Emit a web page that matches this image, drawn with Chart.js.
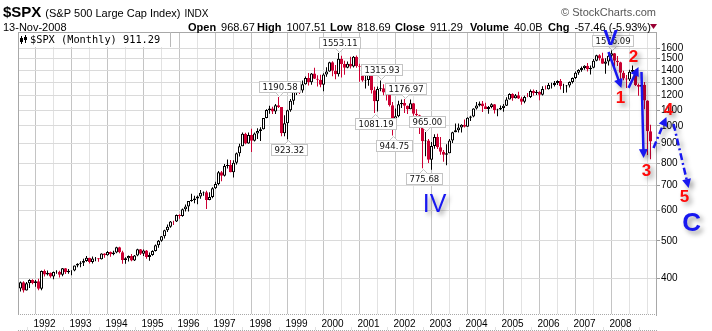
<!DOCTYPE html>
<html>
<head>
<meta charset="utf-8">
<script src="https://cdn.jsdelivr.net/npm/chart.js@4.4.1/dist/chart.umd.min.js"></script>
<style>
html, body { margin: 0; padding: 0; background: #fff; }
canvas { display: block; }
</style>
</head>
<body>
<canvas id="chart" width="712" height="331"></canvas>
<script>
// months are counted from Jan 1992 (= 0); the series starts Apr 1991
const firstMonth = -9
const yearLabels = ['1992','1993','1994','1995','1996','1997','1998','1999','2000',
                    '2001','2002','2003','2004','2005','2006','2007','2008']
const priceTicks = [400, 500, 600, 700, 800, 900, 1000, 1100, 1200, 1300, 1400, 1500, 1600]

const opens = [
    375.2, 375.3, 389.8, 371.2, 387.8, 395.4, 387.9, 392.5, 375.2,                    // 1991 Apr-Dec
    417.1, 408.8, 412.7, 403.7, 414.9, 415.4, 408.1, 424.2, 414.0, 417.8, 418.7, 431.4, // 1992
    435.7, 438.8, 443.4, 451.7, 440.2, 450.2, 450.5, 448.1, 463.6, 458.9, 467.8, 461.8, // 1993
    466.5, 481.6, 467.1, 445.8, 450.9, 456.5, 444.3, 458.3, 475.5, 462.7, 472.4, 453.7, // 1994
    459.3, 470.4, 487.4, 500.7, 514.7, 533.4, 544.8, 562.1, 561.9, 584.4, 581.5, 605.4, // 1995
    615.9, 636.0, 640.4, 645.5, 654.2, 669.1, 670.6, 639.9, 652.0, 687.3, 705.3, 757.0, // 1996
    740.7, 786.2, 790.8, 757.1, 801.3, 848.3, 885.1, 954.3, 899.5, 947.3, 914.6, 955.4, // 1997
    970.4, 980.3, 1049.3, 1101.8, 1111.8, 1090.8, 1133.8, 1120.7, 957.3, 1017.0, 1098.7, 1163.6, // 1998
    1229.2, 1279.6, 1238.3, 1286.4, 1335.2, 1301.8, 1372.7, 1328.7, 1320.4, 1282.7, 1362.9, 1388.9, // 1999
    1469.3, 1394.5, 1366.4, 1498.6, 1452.4, 1420.6, 1454.6, 1430.8, 1517.7, 1436.5, 1429.4, 1315.2, // 2000
    1320.3, 1366.0, 1239.9, 1160.3, 1249.5, 1255.8, 1224.4, 1211.2, 1133.6, 1040.9, 1059.8, 1139.5, // 2001
    1148.1, 1130.2, 1106.7, 1147.4, 1076.9, 1067.1, 989.8, 911.6, 916.1, 815.3, 885.8, 936.3, // 2002
    879.8, 855.7, 841.2, 848.2, 916.9, 963.6, 974.5, 990.3, 1008.0, 996.0, 1050.7, 1058.2, // 2003
    1111.9, 1131.1, 1144.9, 1126.2, 1107.3, 1120.7, 1140.8, 1101.7, 1104.2, 1114.6, 1130.2, 1173.8, // 2004
    1211.9, 1181.3, 1203.6, 1180.6, 1156.9, 1191.5, 1191.3, 1234.2, 1220.3, 1228.8, 1207.0, 1249.5, // 2005
    1248.3, 1280.1, 1280.7, 1294.9, 1310.6, 1270.1, 1270.2, 1276.7, 1303.8, 1335.9, 1377.9, 1400.6, // 2006
    1418.3, 1438.2, 1406.8, 1420.9, 1482.4, 1530.6, 1503.4, 1455.3, 1474.0, 1526.8, 1549.4, 1481.1, // 2007
    1468.4, 1378.6, 1330.6, 1322.7, 1385.6, 1400.4, 1280.0, 1267.4, 1282.8, 1166.4, 968.67          // 2008 Jan-Nov
]
const highs = [
    391.0, 391.5, 392.0, 390.6, 397.1, 396.8, 395.3, 398.2, 418.3,
    420.8, 418.5, 413.7, 416.3, 419.4, 418.0, 425.1, 425.1, 422.4, 419.1, 431.5, 437.0,
    442.2, 449.5, 456.7, 452.0, 455.6, 453.9, 451.2, 464.6, 464.2, 470.9, 469.3, 471.3,
    482.9, 482.9, 471.1, 453.1, 458.3, 462.2, 459.3, 477.1, 476.1, 475.3, 473.7, 466.8,
    472.7, 489.2, 503.2, 515.3, 535.0, 552.1, 563.8, 565.0, 586.8, 587.8, 608.2, 622.9,
    636.2, 664.2, 656.9, 657.6, 680.0, 673.3, 676.9, 670.7, 690.9, 714.1, 762.1, 761.8,
    794.7, 817.7, 814.9, 812.9, 851.9, 898.7, 961.0, 960.6, 961.1, 983.1, 962.0, 986.2,
    992.7, 1050.0, 1106.0, 1130.5, 1123.0, 1141.0, 1190.58, 1121.1, 1066.1, 1102.6, 1177.0, 1244.9,
    1283.0, 1283.7, 1316.2, 1347.8, 1376.0, 1376.5, 1420.3, 1357.6, 1362.1, 1373.2, 1424.4, 1473.1,
    1478.0, 1444.6, 1553.11, 1527.2, 1481.5, 1474.6, 1517.3, 1525.2, 1530.1, 1454.8, 1438.5, 1389.1,
    1383.4, 1376.4, 1267.4, 1269.3, 1315.93, 1286.6, 1239.8, 1226.3, 1155.4, 1110.6, 1163.4, 1173.0,
    1176.97, 1131.3, 1173.9, 1147.8, 1106.6, 1070.7, 994.5, 965.0, 924.0, 907.4, 951.1, 954.3,
    935.1, 864.6, 895.9, 924.2, 965.4, 1015.3, 1015.4, 1011.0, 1040.3, 1053.8, 1063.7, 1112.6,
    1155.4, 1159.0, 1163.2, 1150.6, 1127.7, 1146.3, 1142.0, 1109.7, 1131.5, 1142.1, 1188.5, 1217.3,
    1217.8, 1212.4, 1229.1, 1191.9, 1199.6, 1219.6, 1245.2, 1245.9, 1243.1, 1233.3, 1270.6, 1275.8,
    1294.9, 1297.6, 1310.9, 1318.2, 1326.7, 1290.7, 1280.4, 1306.7, 1340.3, 1389.5, 1407.9, 1431.8,
    1441.6, 1461.6, 1438.9, 1498.0, 1535.6, 1540.6, 1555.9, 1503.9, 1538.7, 1576.09, 1552.8, 1523.6,
    1471.8, 1396.0, 1359.7, 1404.1, 1440.2, 1404.1, 1292.2, 1313.2, 1303.0, 1167.0, 1007.51
]
const lows = [
    366.0, 368.6, 366.6, 370.9, 376.6, 385.2, 379.4, 371.3, 371.6,
    403.8, 406.2, 400.6, 397.2, 410.2, 401.0, 404.2, 410.0, 410.5, 407.0, 416.9, 426.6,
    426.9, 429.8, 441.3, 436.4, 436.3, 442.7, 441.4, 447.0, 452.0, 457.5, 454.4, 459.1,
    464.3, 464.7, 436.2, 435.9, 441.8, 442.2, 443.5, 456.0, 459.8, 456.7, 448.9, 443.9,
    457.1, 469.5, 480.2, 498.0, 507.2, 528.2, 541.4, 550.8, 560.5, 571.4, 578.8, 597.1,
    597.3, 633.7, 627.6, 624.1, 645.0, 656.4, 605.9, 639.5, 646.7, 684.3, 699.8, 716.7,
    737.0, 773.4, 756.1, 733.5, 793.2, 832.1, 884.5, 895.8, 898.4, 855.3, 911.0, 924.9,
    912.8, 979.6, 1047.2, 1076.7, 1074.7, 1074.7, 1114.3, 939.98, 939.9, 923.32, 1090.0, 1136.9,
    1205.5, 1211.9, 1221.5, 1282.8, 1277.3, 1281.4, 1328.1, 1268.7, 1263.5, 1233.7, 1346.0, 1387.4,
    1350.1, 1325.1, 1346.6, 1339.4, 1361.1, 1415.5, 1413.9, 1421.6, 1419.4, 1305.8, 1305.6, 1254.1,
    1274.6, 1215.4, 1081.19, 1091.99, 1232.0, 1203.0, 1165.5, 1124.9, 944.75, 1026.8, 1054.3, 1114.5,
    1081.7, 1074.4, 1106.7, 1063.5, 1049.0, 952.9, 775.68, 833.4, 800.2, 768.6, 872.1, 871.0,
    840.3, 806.3, 788.9, 847.9, 902.8, 963.4, 962.1, 960.8, 990.4, 995.9, 1031.2, 1053.4,
    1105.1, 1124.4, 1087.2, 1107.2, 1076.3, 1113.3, 1078.8, 1060.7, 1101.3, 1090.2, 1127.6, 1173.8,
    1163.8, 1180.9, 1176.9, 1136.2, 1146.2, 1188.3, 1183.6, 1201.1, 1205.4, 1168.2, 1201.1, 1246.6,
    1245.7, 1253.6, 1268.4, 1280.7, 1245.3, 1219.3, 1224.5, 1261.3, 1290.9, 1327.1, 1361.0, 1385.9,
    1404.0, 1389.4, 1364.0, 1416.4, 1476.7, 1484.2, 1454.3, 1370.6, 1439.3, 1489.6, 1406.1, 1435.7,
    1270.1, 1316.8, 1257.0, 1312.0, 1373.1, 1272.0, 1200.4, 1248.6, 1106.4, 839.8, 818.69
]
const closes = [
    375.3, 389.8, 371.2, 387.8, 395.4, 387.9, 392.5, 375.2, 417.1,
    408.8, 412.7, 403.7, 414.9, 415.4, 408.1, 424.2, 414.0, 417.8, 418.7, 431.4, 435.7,
    438.8, 443.4, 451.7, 440.2, 450.2, 450.5, 448.1, 463.6, 458.9, 467.8, 461.8, 466.5,
    481.6, 467.1, 445.8, 450.9, 456.5, 444.3, 458.3, 475.5, 462.7, 472.4, 453.7, 459.3,
    470.4, 487.4, 500.7, 514.7, 533.4, 544.8, 562.1, 561.9, 584.4, 581.5, 605.4, 615.9,
    636.0, 640.4, 645.5, 654.2, 669.1, 670.6, 639.9, 652.0, 687.3, 705.3, 757.0, 740.7,
    786.2, 790.8, 757.1, 801.3, 848.3, 885.1, 954.3, 899.5, 947.3, 914.6, 955.4, 970.4,
    980.3, 1049.3, 1101.8, 1111.8, 1090.8, 1133.8, 1120.7, 957.3, 1017.0, 1098.7, 1163.6, 1229.2,
    1279.6, 1238.3, 1286.4, 1335.2, 1301.8, 1372.7, 1328.7, 1320.4, 1282.7, 1362.9, 1388.9, 1469.3,
    1394.5, 1366.4, 1498.6, 1452.4, 1420.6, 1454.6, 1430.8, 1517.7, 1436.5, 1429.4, 1315.2, 1320.3,
    1366.0, 1239.9, 1160.3, 1249.5, 1255.8, 1224.4, 1211.2, 1133.6, 1040.9, 1059.8, 1139.5, 1148.1,
    1130.2, 1106.7, 1147.4, 1076.9, 1067.1, 989.8, 911.6, 916.1, 815.3, 885.8, 936.3, 879.8,
    855.7, 841.2, 848.2, 916.9, 963.6, 974.5, 990.3, 1008.0, 996.0, 1050.7, 1058.2, 1111.9,
    1131.1, 1144.9, 1126.2, 1107.3, 1120.7, 1140.8, 1101.7, 1104.2, 1114.6, 1130.2, 1173.8, 1211.9,
    1181.3, 1203.6, 1180.6, 1156.9, 1191.5, 1191.3, 1234.2, 1220.3, 1228.8, 1207.0, 1249.5, 1248.3,
    1280.1, 1280.7, 1294.9, 1310.6, 1270.1, 1270.2, 1276.7, 1303.8, 1335.9, 1377.9, 1400.6, 1418.3,
    1438.2, 1406.8, 1420.9, 1482.4, 1530.6, 1503.4, 1455.3, 1474.0, 1526.8, 1549.4, 1481.1, 1468.4,
    1378.6, 1330.6, 1322.7, 1385.6, 1400.4, 1280.0, 1267.4, 1282.8, 1166.4, 968.75, 911.29
]

// peak / trough price tags
const tagMonths = [78, 81, 98, 112, 110, 120, 116, 127, 126, 189]
const tagValues = [1190.58, 923.32, 1553.11, 1315.93, 1081.19, 1176.97, 944.75, 965.00, 775.68, 1576.09]
const tagAbove  = [true, false, true, true, false, true, false, true, false, true]

// hand drawn wave count (month, price)
const waveTexts  = ['V', '1', '2', '3', '4', '5', 'C', 'IV']
const waveMonths = [188.7, 192, 196.3, 200.7, 208, 213.3, 215.7, 130]
const wavePrices = [1690, 1183, 1516, 762, 1101, 652, 554, 621]
const arrowFrom  = [[188, 1562], [194.7, 1258], [199, 1385], [203, 876], [209.7, 1012]]
const arrowTo    = [[192.3, 1258], [198, 1427], [199.7, 824], [207.3, 1056], [214.7, 688]]
const arrowDashed = [false, false, false, true, true]

const statNames  = ['Open', 'High', 'Low', 'Close', 'Volume', 'Chg']
const statValues = ['968.67', '1007.51', '818.69', '911.29', '40.0B', '-57.46 (-5.93%)']

const RED = '#cc0033'
const BLUE = '#1818f0'
const xMin = -26.5 / 3
const xMax = xMin + 638 / 3

Chart.defaults.font.family = '"Liberation Sans", Arial, sans-serif'

let up = closes.map((c, i) => c >= opens[i])
let wicks = closes.map((c, i) => ({x: firstMonth + i, y: [lows[i], highs[i]]}))
let bodies = closes.map((c, i) => ({x: firstMonth + i, y: [opens[i], c]}))

function arrow(ctx, p0, p1, dashed) {
    let ang = Math.atan2(p1[1] - p0[1], p1[0] - p0[0])
    let tip = 9
    ctx.beginPath()
    ctx.setLineDash(dashed ? [7, 3, 2, 3] : [])
    ctx.moveTo(p0[0], p0[1])
    ctx.lineTo(p1[0] - Math.cos(ang) * tip * 0.8, p1[1] - Math.sin(ang) * tip * 0.8)
    ctx.stroke()
    ctx.setLineDash([])
    ctx.beginPath()
    ctx.moveTo(p1[0], p1[1])
    ctx.lineTo(p1[0] - Math.cos(ang) * tip + Math.sin(ang) * 4.5, p1[1] - Math.sin(ang) * tip - Math.cos(ang) * 4.5)
    ctx.lineTo(p1[0] - Math.cos(ang) * tip - Math.sin(ang) * 4.5, p1[1] - Math.sin(ang) * tip + Math.cos(ang) * 4.5)
    ctx.closePath()
    ctx.fill()
}

const decor = {
    id: 'decor',
    afterDraw(chart) {
        const {ctx, chartArea: a, scales: {x, y}} = chart
        ctx.save()

        // frame
        ctx.strokeStyle = '#a8a8a8'
        ctx.lineWidth = 1
        ctx.beginPath()
        ctx.moveTo(a.left + 0.5, a.top); ctx.lineTo(a.left + 0.5, a.bottom)
        ctx.moveTo(a.right + 0.5, a.top); ctx.lineTo(a.right + 0.5, a.bottom + 2)
        ctx.moveTo(a.left, a.top + 0.5); ctx.lineTo(a.right, a.top + 0.5)
        ctx.stroke()
        ctx.setLineDash([1, 1])
        ctx.beginPath()
        ctx.moveTo(a.left, a.bottom + 0.5); ctx.lineTo(a.right + 1, a.bottom + 0.5)
        ctx.moveTo(a.left, 330.5); ctx.lineTo(a.right + 1, 330.5)
        ctx.stroke()
        ctx.setLineDash([])
        x.ticks.forEach(t => {
            let px = Math.round(x.getPixelForValue(t.value)) + 0.5
            ctx.strokeStyle = t.value % 12 === 0 ? '#c4c4c4' : '#e2e2e2'
            ctx.beginPath(); ctx.moveTo(px, 327); ctx.lineTo(px, 330); ctx.stroke()
        })

        // legend box
        ctx.fillStyle = '#fff'
        ctx.fillRect(a.left + 1, a.top + 1, 152, 14)
        ctx.strokeStyle = '#b8b8b8'
        ctx.beginPath()
        ctx.moveTo(a.left + 152.5, a.top); ctx.lineTo(a.left + 152.5, a.top + 15)
        ctx.stroke()
        ctx.strokeStyle = '#000'
        ctx.beginPath()
        ctx.moveTo(21.5, 36); ctx.lineTo(21.5, 44)
        ctx.moveTo(25.5, 35); ctx.lineTo(25.5, 43)
        ctx.stroke()
        ctx.fillStyle = '#000'
        ctx.fillRect(20, 38, 3, 4)
        ctx.fillRect(24, 37, 3, 3)
        ctx.font = '10.3px "DejaVu Sans Mono"'
        ctx.textBaseline = 'alphabetic'
        ctx.fillText('$SPX (Monthly) 911.29', 30, 43)

        // header
        ctx.font = 'bold 15px "Liberation Sans"'
        ctx.fillText('$SPX', 3, 17)
        let w = ctx.measureText('$SPX').width
        ctx.font = '11px "Liberation Sans"'
        ctx.fillText('(S&P 500 Large Cap Index)', 3 + w + 4, 17)
        let w2 = ctx.measureText('(S&P 500 Large Cap Index)').width
        ctx.font = '10px "Liberation Sans"'
        ctx.fillText('INDX', 3 + w + 4 + w2 + 4, 17)
        ctx.font = '11px "Liberation Sans"'
        ctx.fillText('13-Nov-2008', 3, 31)
        let sx = [188, 257, 330, 395, 470, 548]
        statNames.forEach((n, i) => {
            ctx.font = 'bold 11px "Liberation Sans"'
            ctx.fillText(n, sx[i], 31)
            let nw = ctx.measureText(n).width
            ctx.font = '11px "Liberation Sans"'
            ctx.fillText(statValues[i], sx[i] + nw + 5, 31)
        })
        ctx.fillStyle = '#990033'
        ctx.beginPath(); ctx.moveTo(650, 24); ctx.lineTo(657, 24); ctx.lineTo(653.5, 29); ctx.closePath(); ctx.fill()
        ctx.fillStyle = '#555'
        ctx.textAlign = 'right'
        ctx.fillText('\u00a9 StockCharts.com', 656, 16)
        ctx.textAlign = 'left'

        // price tags
        ctx.font = '8.5px "DejaVu Sans"'
        tagValues.forEach((v, i) => {
            let px = Math.round(x.getPixelForValue(tagMonths[i])) + 0.5
            let py = y.getPixelForValue(v)
            let txt = v.toFixed(2)
            let bw = Math.round(ctx.measureText(txt).width) + 6
            let bh = 11
            let bx = Math.round(px - bw / 2) + 0.5
            let by = tagAbove[i] ? Math.round(py - 5 - bh) + 0.5 : Math.round(py + 5) + 0.5
            let edge = tagAbove[i] ? by + bh : by
            let dir = tagAbove[i] ? 1 : -1
            ctx.fillStyle = '#fff'
            ctx.strokeStyle = '#c4c4c4'
            ctx.fillRect(bx, by, bw, bh)
            ctx.strokeRect(bx, by, bw, bh)
            ctx.beginPath()
            ctx.moveTo(px - 4, edge); ctx.lineTo(px, edge + dir * 4); ctx.lineTo(px + 4, edge)
            ctx.fill(); ctx.stroke()
            ctx.fillStyle = '#111'
            ctx.textBaseline = 'middle'
            ctx.fillText(txt, bx + 3, by + bh / 2 + 0.5)
        })
        ctx.textBaseline = 'alphabetic'

        // wave count annotations
        ctx.shadowColor = 'rgba(0,0,0,0.4)'
        ctx.shadowBlur = 5
        ctx.shadowOffsetX = 3
        ctx.shadowOffsetY = 3
        ctx.strokeStyle = BLUE
        ctx.fillStyle = BLUE
        ctx.lineWidth = 2.5
        arrowFrom.forEach((f, i) => {
            let p0 = [x.getPixelForValue(f[0]), y.getPixelForValue(f[1])]
            let p1 = [x.getPixelForValue(arrowTo[i][0]), y.getPixelForValue(arrowTo[i][1])]
            arrow(ctx, p0, p1, arrowDashed[i])
        })
        ctx.textAlign = 'center'
        ctx.textBaseline = 'middle'
        waveTexts.forEach((t, i) => {
            let px = x.getPixelForValue(waveMonths[i])
            let py = y.getPixelForValue(wavePrices[i])
            if (t === 'V') { ctx.font = 'bold 22px "Liberation Sans"'; ctx.fillStyle = BLUE }
            else if (t === 'C') { ctx.font = 'bold 26px "Liberation Sans"'; ctx.fillStyle = BLUE }
            else if (t === 'IV') { ctx.font = '25px "Liberation Sans"'; ctx.fillStyle = BLUE }
            else { ctx.font = 'bold 17px "Liberation Sans"'; ctx.fillStyle = '#ff0a0a' }
            ctx.fillText(t, px, py)
        })
        ctx.restore()
    }
}

new Chart(document.getElementById('chart'), {
    type: 'bar',
    data: {
        datasets: [
            {
                data: wicks,
                backgroundColor: c => up[c.dataIndex] ? '#000' : RED,
                maxBarThickness: 1,
                order: 2
            },
            {
                data: bodies,
                backgroundColor: c => up[c.dataIndex] ? '#fff' : RED,
                borderColor: c => up[c.dataIndex] ? '#000' : RED,
                borderWidth: 1,
                borderSkipped: false,
                order: 1
            }
        ]
    },
    options: {
        responsive: false,
        animation: false,
        devicePixelRatio: 1,
        events: [],
        datasets: {
            bar: {
                grouped: false,
                barPercentage: 1,
                categoryPercentage: 1,
                inflateAmount: 0,
                clip: 0
            }
        },
        layout: {padding: {left: 18, top: 32, right: 0, bottom: 0}},
        plugins: {legend: {display: false}, tooltip: {enabled: false}},
        scales: {
            x: {
                type: 'linear',
                min: xMin,
                max: xMax,
                offset: false,
                afterFit: s => { s.height = 17 },
                afterBuildTicks: s => {
                    let t = [{value: -6}]
                    yearLabels.forEach((yr, i) => {
                        t.push({value: i * 12})
                        if (i * 12 + 6 < xMax) t.push({value: i * 12 + 6})
                    })
                    s.ticks = t
                },
                grid: {
                    color: c => (c.tick && c.tick.value % 12 === 0) ? '#c4c4c4' : '#e2e2e2',
                    drawTicks: false
                },
                border: {display: false},
                ticks: {
                    autoSkip: false,
                    maxRotation: 0,
                    padding: 4,
                    color: '#000',
                    font: {size: 10},
                    callback: v => v % 12 === 0 ? yearLabels[v / 12] : ''
                }
            },
            y: {
                type: 'logarithmic',
                position: 'right',
                min: 322,
                max: 1762,
                afterFit: s => { s.width = 56 },
                afterBuildTicks: s => { s.ticks = priceTicks.map(v => ({value: v})) },
                grid: {color: '#dadada', tickLength: 4, tickColor: '#999'},
                border: {display: false},
                ticks: {
                    padding: 1,
                    color: '#000',
                    font: {size: 10},
                    callback: v => String(v)
                }
            }
        }
    },
    plugins: [decor]
})
</script>
</body>
</html>
